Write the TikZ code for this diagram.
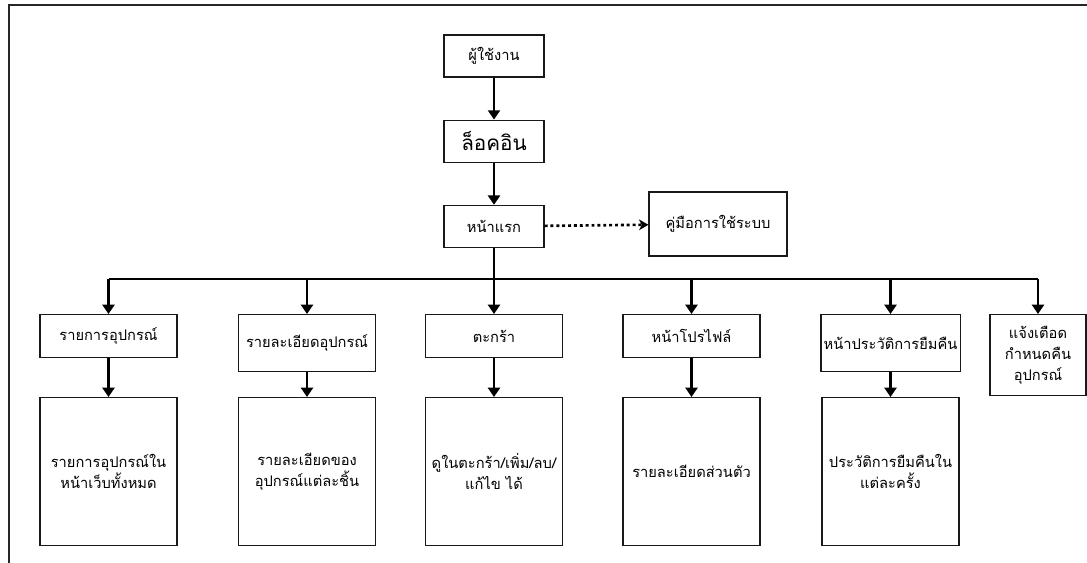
\documentclass[tikz,border=0pt]{standalone}
\usepackage{fontspec}
\newfontfamily\thaifont[Script=Thai]{Loma}
\usetikzlibrary{positioning, arrows.meta}
\tikzstyle{page} = [rectangle, draw=black!90, line width=0.9pt, text centered, align=center, inner sep=2pt, font=\thaifont\fontsize{11}{15.5}\selectfont]
\tikzstyle{topbox} = [page, minimum width=75pt, minimum height=31.5pt]
\tikzstyle{menu} = [page, anchor=north, minimum width=102.75pt, minimum height=32.25pt]
\tikzstyle{detail} = [page, anchor=north, minimum width=102.75pt, minimum height=111pt]
\tikzstyle{line} = [line width=2pt]
\tikzstyle{arrow} = [line, -{Triangle[length=7pt,width=9pt]}]
\tikzstyle{dotarrow} = [line, dash pattern=on 2.2pt off 2.2pt, -{Stealth[length=7pt,width=8pt,inset=2pt]}]

\begin{document}
\begin{tikzpicture}[x=0.75pt, y=0.75pt]
                \useasboundingbox (0,0) rectangle (1087,-563);
                % Frame
                \draw [line width=1.8pt, black!85] (1087,-5) -- (9,-5) -- (9,-563);

                % Nodes
                \node (user) [topbox] at (494,-56) {ผู้ใช้งาน};
                \node (login) [topbox, below=31.5pt of user, font=\thaifont\fontsize{15.5}{18}\selectfont] {ล็อคอิน};
                \node (home) [topbox, below=31.5pt of login] {หน้าแรก};
                \node (manual) [page, minimum width=103.5pt, minimum height=48pt] at (718,-224) {คู่มือการใช้ระบบ};

                \node (list) [menu] at (108.5,-314) {รายการอุปกรณ์};
                \node (item) [menu, minimum height=42.75pt] at (307,-314) {รายละเอียดอุปกรณ์};
                \node (cart) [menu] at (494,-314) {ตะกร้า};
                \node (profile) [menu] at (691.5,-314) {หน้าโปรไฟล์};
                \node (history) [menu, minimum height=42.75pt] at (890.5,-314) {หน้าประวัติการยืมคืน};
                \node (notice) [menu, minimum width=72pt, minimum height=60.75pt] at (1038,-314) {แจ้งเตือด\\กำหนดคืน\\อุปกรณ์};

                \node (listinfo) [detail] at (108.5,-397) {รายการอุปกรณ์ใน\\หน้าเว็บทั้งหมด};
                \node (iteminfo) [detail] at (307,-397) {รายละเอียดของ\\อุปกรณ์แต่ละชิ้น};
                \node (cartinfo) [detail] at (494,-397) {ดูในตะกร้า/เพิ่ม/ลบ/\\แก้ไข ได้};
                \node (profileinfo) [detail] at (691.5,-397) {รายละเอียดส่วนตัว};
                \node (historyinfo) [detail] at (890.5,-397) {ประวัติการยืมคืนใน\\แต่ละครั้ง};

                % Arrows
                \draw [arrow] (user) -- (login);
                \draw [arrow] (login) -- (home);
                \draw [dotarrow] (home) -- (manual);
                \coordinate (busL) at (108.5,-279);
                \coordinate (busR) at (1038,-279);
                \draw [line] (busL) -- (busR);
                \draw [arrow] (home) -- (cart);
                \draw [arrow] (busL) -- (list);
                \draw [arrow] (item |- busL) -- (item);
                \draw [arrow] (profile |- busL) -- (profile);
                \draw [arrow] (history |- busL) -- (history);
                \draw [arrow] (busR) -- (notice);
                \draw [arrow] (list) -- (listinfo);
                \draw [arrow] (item) -- (iteminfo);
                \draw [arrow] (cart) -- (cartinfo);
                \draw [arrow] (profile) -- (profileinfo);
                \draw [arrow] (history) -- (historyinfo);
            \end{tikzpicture}
\end{document}
